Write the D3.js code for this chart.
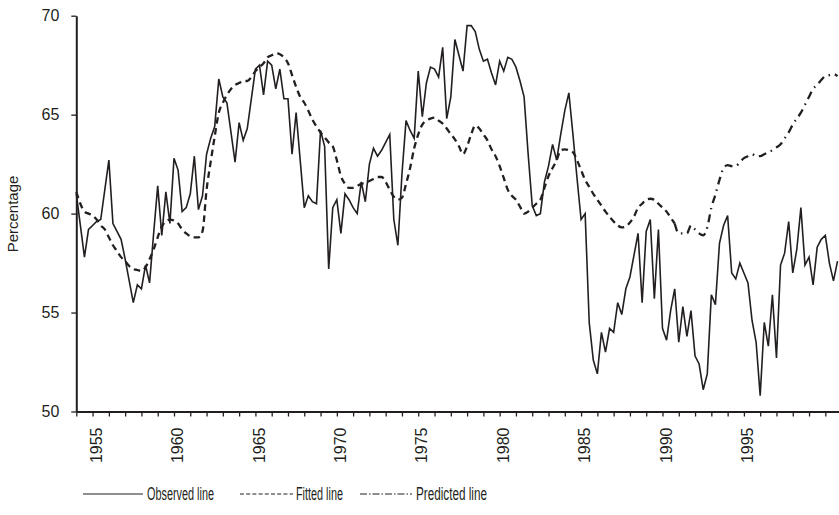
<!DOCTYPE html>
<meta charset="utf-8">
<style>
    body { margin: 0; background: #fff; }
    svg { display: block; font-family: "Liberation Sans", Arial, sans-serif; }
    .axis path, .axis line { stroke: #231f20; }
    .axis text { fill: #231f20; font-size: 16px; font-family: "Liberation Sans", Arial, sans-serif; }
    .legend text { fill: #231f20; font-size: 18px; font-family: "Liberation Sans", Arial, sans-serif; }
</style>
<svg width="839" height="515"></svg>
<script src="https://d3js.org/d3.v7.min.js"></script>
<script>

    // quarterly series, first quarter 1954
    var startYear = 1954;

    var observed = [
        61.0, 59.4, 57.8, 59.2, 59.4, 59.6, 59.7, 61.2, 62.7, 59.5,
        59.1, 58.7, 57.7, 56.6, 55.5, 56.4, 56.2, 57.4, 56.5, 59.0,
        61.4, 58.9, 61.1, 59.5, 62.8, 62.2, 60.1, 60.3, 61.0, 62.9,
        60.2, 60.9, 63.0, 63.8, 64.4, 66.8, 65.9, 65.6, 64.1, 62.6,
        64.6, 63.7, 64.3, 65.8, 67.3, 67.5, 66.0, 67.7, 67.5, 66.3,
        67.3, 65.8, 65.8, 63.0, 65.1, 62.7, 60.3, 60.9, 60.6, 60.5,
        64.2, 63.4, 57.2, 60.3, 60.7, 59.0, 61.0, 60.7, 60.3, 60.0,
        61.6, 60.6, 62.5, 63.3, 62.9, 63.2, 63.6, 64.0, 59.7, 58.4,
        62.0, 64.7, 64.2, 63.8, 67.2, 64.9, 66.6, 67.4, 67.3, 66.9,
        68.4, 64.8, 65.9, 68.8, 68.0, 67.2, 69.5, 69.5, 69.2, 68.3,
        67.7, 67.8, 67.1, 66.5, 67.7, 67.2, 67.9, 67.8, 67.4, 66.7,
        65.9, 63.0, 60.4, 59.9, 60.0, 61.6, 62.4, 63.5, 62.7, 64.0,
        65.2, 66.1, 64.0, 61.8, 59.7, 60.0, 54.5, 52.6, 51.9, 54.0,
        53.0, 54.2, 54.0, 55.5, 54.9, 56.2, 56.8, 57.9, 59.0, 55.5,
        59.1, 59.7, 55.7, 59.2, 54.2, 53.6, 55.1, 56.2, 53.5, 55.3,
        53.8, 55.1, 52.8, 52.4, 51.1, 51.9, 55.9, 55.4, 58.5, 59.4,
        59.9, 57.0, 56.7, 57.5, 57.0, 56.5, 54.6, 53.5, 50.8, 54.5,
        53.3, 55.9, 52.7, 57.4, 58.0, 59.6, 57.0, 58.2, 60.3, 57.4,
        57.8, 56.4, 58.3, 58.7, 58.9, 57.5, 56.6, 57.6
    ];

    var fitted = [
        61.1, 60.5, 60.1, 60.0, 59.9, 59.7, 59.4, 59.2, 58.8, 58.4,
        58.1, 57.8, 57.6, 57.35, 57.2, 57.15, 57.1, 57.3, 57.7, 58.2,
        58.8, 59.35, 59.6, 59.7, 59.65, 59.5, 59.2, 59.0, 58.85, 58.8,
        58.8, 59.1, 61.2, 62.6, 63.9, 65.1, 65.6, 66.0, 66.3, 66.5,
        66.6, 66.7, 66.7, 66.9, 67.2, 67.4, 67.6, 67.9, 68.0, 68.1,
        68.05, 67.9, 67.6, 67.0, 66.4, 65.9, 65.6, 65.2, 64.75, 64.4,
        64.1, 63.85, 63.6, 63.4, 62.7, 61.9, 61.5, 61.3, 61.3, 61.4,
        61.5, 61.55, 61.65, 61.75, 61.85, 61.85, 61.6, 61.2, 60.85, 60.7,
        60.8, 61.5, 62.3, 63.3, 64.0, 64.5, 64.7, 64.8, 64.85, 64.7,
        64.55, 64.3, 64.0, 63.75, 63.4, 63.0, 63.4, 64.0, 64.45, 64.3,
        64.0, 63.7, 63.25, 62.9, 62.4, 61.8, 61.2, 60.9, 60.7, 60.35,
        60.0, 60.1, 60.3, 60.5, 60.7, 61.3, 61.9, 62.3, 62.7, 63.2,
        63.25, 63.2, 63.1, 62.7, 62.2, 61.7, 61.35, 61.0, 60.7, 60.4,
        60.1, 59.85, 59.6, 59.4, 59.3, 59.35, 59.55, 59.85, 60.3, 60.5,
        60.7, 60.75, 60.7, 60.5, 60.3, 60.1, 59.8, 59.5
    ];

    // predicted continues from the last fitted quarter
    var predictedStart = 147;
    var predicted = [
        59.5, 59.0, 59.0, 59.0, 59.4, 59.2, 59.0, 58.9, 59.3, 60.3,
        60.96, 61.7, 62.3, 62.45, 62.4, 62.4, 62.6, 62.8, 62.9, 63.0,
        62.9, 62.9, 63.0, 63.1, 63.2, 63.35, 63.5, 63.8, 64.1, 64.5,
        64.8, 65.1, 65.5, 65.9, 66.3, 66.5, 66.75, 66.95, 67.0, 67.05,
        66.95
    ];

    var yTicks = [50, 55, 60, 65, 70];
    var xLabels = [1955, 1960, 1965, 1970, 1975, 1980, 1985, 1990, 1995];
    var legendNames = ["Observed line", "Fitted line", "Predicted line"];

    var svg = d3.select("svg");
    var ink = "#231f20";

    var x = d3.scaleLinear().domain([1954, 2000.84]).range([76.3, 839]);
    var y = d3.scaleLinear().domain([50, 70]).range([411.5, 15.7]);

    function quarter(i) { return startYear + i / 4; }

    // y axis
    var yAxis = svg.append("g")
        .attr("class", "axis")
        .attr("transform", "translate(" + x.range()[0] + ",0)")
        .call(d3.axisLeft(y).tickValues(yTicks).tickSize(5).tickSizeOuter(0).tickPadding(12));
    yAxis.select(".domain").attr("stroke-width", 2);
    yAxis.selectAll(".tick line").attr("stroke-width", 1.3);

    // x axis, a tick for every year, a label every five
    var xAxis = svg.append("g")
        .attr("class", "axis")
        .attr("transform", "translate(0," + y(50) + ")")
        .call(d3.axisBottom(x).tickValues(d3.range(1954, 2001)).tickSize(5).tickSizeOuter(0)
            .tickFormat(function (d) { return xLabels.indexOf(d) >= 0 ? d : ""; }));
    xAxis.select(".domain").attr("stroke-width", 2);
    xAxis.selectAll(".tick line").attr("stroke-width", 1.3);
    xAxis.selectAll(".tick text")
        .attr("transform", "rotate(-90)")
        .attr("text-anchor", "end")
        .attr("x", -16)
        .attr("y", 3)
        .attr("dy", "0.35em");

    svg.append("text")
        .attr("transform", "translate(18,214) rotate(-90)")
        .attr("text-anchor", "middle")
        .attr("fill", ink)
        .style("font-size", "15px")
        .text("Percentage");

    var lineObs = d3.line()
        .x(function (d, i) { return x(quarter(i)); })
        .y(function (d) { return y(d); });

    var linePred = d3.line()
        .x(function (d, i) { return x(quarter(predictedStart + i)); })
        .y(function (d) { return y(d); });

    svg.append("path")
        .datum(observed)
        .attr("fill", "none")
        .attr("stroke", ink)
        .attr("stroke-width", 1.6)
        .attr("d", lineObs);

    svg.append("path")
        .datum(fitted)
        .attr("fill", "none")
        .attr("stroke", ink)
        .attr("stroke-width", 2.3)
        .attr("stroke-dasharray", "6.5,4.5")
        .attr("d", lineObs.curve(d3.curveMonotoneX));

    svg.append("path")
        .datum(predicted)
        .attr("fill", "none")
        .attr("stroke", ink)
        .attr("stroke-width", 2.3)
        .attr("stroke-dasharray", "8,5,1.5,5")
        .attr("d", linePred.curve(d3.curveMonotoneX));

    // legend
    var legendItems = [
        { x1: 83, x2: 143, dash: null, tx: 147, w: 67 },
        { x1: 240, x2: 293, dash: "4,2.2", tx: 296, w: 47 },
        { x1: 360, x2: 412, dash: "7,2,1.5,2", tx: 416, w: 71 }
    ];
    var legend = svg.append("g").attr("class", "legend");
    legendItems.forEach(function (it, i) {
        legend.append("line")
            .attr("x1", it.x1).attr("x2", it.x2)
            .attr("y1", 494).attr("y2", 494)
            .attr("stroke", ink)
            .attr("stroke-width", 1.1)
            .attr("stroke-dasharray", it.dash);
        legend.append("text")
            .attr("x", it.tx)
            .attr("y", 494)
            .attr("dy", "0.35em")
            .attr("textLength", it.w)
            .attr("lengthAdjust", "spacingAndGlyphs")
            .text(legendNames[i]);
    });

</script>
